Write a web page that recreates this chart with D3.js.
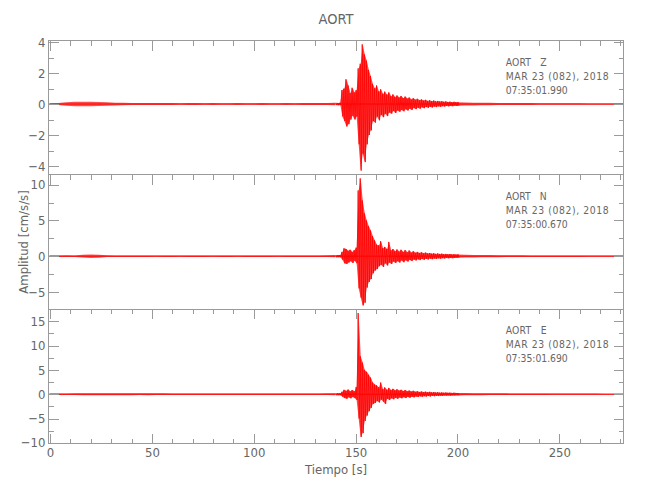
<!DOCTYPE html>
<html><head><meta charset="utf-8">
<script src="https://cdn.jsdelivr.net/npm/d3@7"></script>
<style>
body{margin:0;background:#fff}
svg{display:block}
text{font-family:"Liberation Sans Narrow","DejaVu Sans Condensed","Liberation Sans",sans-serif;}
</style></head><body>
<svg id="c" width="650" height="500"></svg>
<script>
// ---------------- DATA ----------------
const title = "AORT";
const station = "AORT";
const components = ["Z", "N", "E"];
const dateLabel = "MAR 23 (082), 2018";
const startTimes = ["07:35:01.990", "07:35:00.670", "07:35:01.690"];
const xLabel = "Tiempo [s]";
const yLabel = "Amplitud [cm/s/s]";

const xDomain = [-0.75, 281.5];
const xTicksMajor = [0, 50, 100, 150, 200, 250];
const xTicksMinor = [10,20,30,40,60,70,80,90,110,120,130,140,160,170,180,190,210,220,230,240,260,270,280];

const yDomains = [[-4.57, 4.1], [-7.42, 11.39], [-10.14, 17.49]];
const yTicksMajor = [[-4,-2,0,2,4], [-5,0,5,10], [-10,-5,0,5,10,15]];
const yTicksMinor = [[-3,-1,1,3], [-2.5,2.5,7.5], [-7.5,-2.5,2.5,7.5,12.5]];

// Active part: per-second bins from 140 s to 200 s (max / min of each bin)
const activeStart = 140, activeStep = 1;
const zHi = [0.08,0.07,0.08,0.9,1.0,1.6,1.2,0.7,1.05,0.75,0.9,2.3,2.6,3.85,3.2,2.8,2.2,1.8,1.3,1.0,1.2,0.8,0.95,0.65,0.8,0.6,0.75,0.5,0.62,0.45,0.55,0.42,0.52,0.38,0.48,0.35,0.42,0.3,0.38,0.28,0.34,0.25,0.3,0.22,0.27,0.2,0.24,0.18,0.22,0.17,0.2,0.16,0.18,0.14,0.17,0.13,0.15,0.12,0.14,0.12,0.12];
const zLo = [-0.07,-0.08,-0.07,-0.8,-1.1,-1.45,-1.3,-1.0,-0.75,-1.0,-0.8,-2.6,-4.3,-3.2,-3.75,-2.6,-2.0,-1.7,-1.1,-1.2,-0.8,-1.05,-0.7,-0.85,-0.62,-0.78,-0.55,-0.62,-0.45,-0.58,-0.42,-0.5,-0.38,-0.47,-0.34,-0.42,-0.3,-0.38,-0.26,-0.33,-0.24,-0.3,-0.21,-0.27,-0.19,-0.24,-0.18,-0.22,-0.16,-0.2,-0.15,-0.18,-0.14,-0.16,-0.13,-0.15,-0.12,-0.14,-0.11,-0.12,-0.11];
const nHi = [0.15,0.15,0.16,0.6,1.1,1.0,0.75,0.9,0.6,0.85,1.2,9.2,10.9,7.8,6.0,5.0,4.2,3.6,2.8,2.2,1.6,1.5,2.1,1.1,1.3,1.0,2.0,0.8,1.0,0.7,0.95,0.65,0.9,0.6,0.85,0.55,0.8,0.5,0.7,0.48,0.6,0.45,0.55,0.4,0.5,0.38,0.45,0.35,0.42,0.32,0.38,0.3,0.35,0.28,0.32,0.26,0.3,0.25,0.28,0.24,0.24];
const nLo = [-0.15,-0.14,-0.15,-0.5,-1.0,-1.1,-0.9,-0.7,-0.95,-0.65,-1.0,-4.5,-5.8,-6.9,-6.5,-4.4,-3.6,-3.2,-2.4,-2.0,-1.8,-1.4,-1.2,-1.5,-1.0,-1.3,-0.9,-1.1,-0.75,-0.95,-0.7,-0.9,-0.6,-0.85,-0.58,-0.75,-0.52,-0.68,-0.48,-0.6,-0.44,-0.55,-0.4,-0.5,-0.37,-0.45,-0.34,-0.42,-0.32,-0.38,-0.3,-0.35,-0.28,-0.32,-0.26,-0.3,-0.25,-0.28,-0.24,-0.23,-0.22];
const eHi = [0.2,0.2,0.22,0.5,0.9,0.7,0.95,0.6,0.85,0.6,1.5,16.7,7.8,6.5,5.0,4.6,4.0,3.4,2.4,2.0,1.8,1.4,2.4,1.0,1.4,0.9,1.3,0.85,1.1,0.8,1.0,0.75,0.9,0.65,0.85,0.6,0.75,0.55,0.7,0.5,0.62,0.46,0.56,0.43,0.52,0.4,0.48,0.37,0.44,0.34,0.4,0.32,0.37,0.3,0.34,0.28,0.32,0.27,0.3,0.26,0.25];
const eLo = [-0.2,-0.2,-0.2,-0.5,-0.8,-0.95,-0.65,-0.85,-0.6,-0.8,-1.2,-5.0,-8.8,-8.0,-5.5,-4.4,-3.5,-2.8,-2.0,-1.8,-1.4,-1.7,-1.1,-1.5,-2.0,-0.95,-1.2,-0.85,-1.05,-0.75,-0.95,-0.68,-0.85,-0.62,-0.8,-0.56,-0.72,-0.52,-0.65,-0.47,-0.58,-0.43,-0.53,-0.4,-0.49,-0.37,-0.45,-0.34,-0.41,-0.32,-0.38,-0.3,-0.35,-0.28,-0.32,-0.27,-0.3,-0.25,-0.28,-0.24,-0.23];

// Quiet parts: noise amplitude every 4 s, before (0-140 s) and after (200-284 s)
const quietStep = 4, preStart = 0, postStart = 200;
const zPre = [0.05,0.07,0.11,0.14,0.15,0.14,0.13,0.11,0.09,0.08,0.07,0.07,0.06,0.06,0.07,0.06,0.05,0.06,0.06,0.05,0.06,0.05,0.05,0.06,0.05,0.05,0.06,0.05,0.05,0.06,0.05,0.06,0.06,0.07,0.07,0.08];
const nPre = [0.1,0.11,0.12,0.1,0.2,0.24,0.21,0.13,0.11,0.1,0.1,0.11,0.1,0.09,0.1,0.1,0.09,0.1,0.11,0.1,0.09,0.1,0.1,0.09,0.1,0.1,0.11,0.1,0.09,0.1,0.1,0.11,0.1,0.11,0.12,0.15];
const ePre = [0.15,0.15,0.16,0.17,0.2,0.22,0.21,0.22,0.2,0.21,0.2,0.19,0.2,0.18,0.17,0.16,0.15,0.16,0.15,0.15,0.16,0.15,0.14,0.15,0.15,0.14,0.15,0.15,0.14,0.15,0.15,0.16,0.15,0.16,0.17,0.2];
const zPost = [0.11,0.1,0.09,0.08,0.08,0.07,0.07,0.06,0.06,0.06,0.05,0.05,0.05,0.05,0.05,0.05,0.04,0.04,0.04,0.04,0.04,0.04];
const nPost = [0.23,0.2,0.18,0.16,0.15,0.14,0.13,0.12,0.12,0.11,0.11,0.11,0.1,0.1,0.1,0.1,0.09,0.09,0.09,0.09,0.09,0.09];
const ePost = [0.25,0.23,0.21,0.2,0.19,0.18,0.17,0.16,0.15,0.15,0.14,0.14,0.13,0.13,0.13,0.12,0.12,0.12,0.11,0.11,0.11,0.11];

const traces = [
  {hi: zHi, lo: zLo, pre: zPre, post: zPost},
  {hi: nHi, lo: nLo, pre: nPre, post: nPost},
  {hi: eHi, lo: eLo, pre: ePre, post: ePost}
];

// ---------------- LAYOUT / STYLE ----------------
const AX = "#9a9a9a", TX = "#666", RED = "#ff0000";
const pL = 48.5, pR = 623.5, pT = 40.5, pB = 443.5;
const panelH = (pB - pT) / 3;

const svg = d3.select("#c");
const x = d3.scaleLinear().domain(xDomain).range([pL, pR]);

svg.append("text").attr("x", (pL + pR) / 2).attr("y", 24)
  .attr("text-anchor", "middle").attr("font-size", 14.5).attr("fill", TX).text(title);

function styleAxis(g, fs) {
  g.attr("font-family", null).attr("font-size", fs);
  g.select(".domain").remove();
  g.selectAll("line").attr("stroke", AX).attr("shape-rendering", "crispEdges");
  g.selectAll("text").attr("fill", TX);
}

traces.forEach((tr, i) => {
  const y0 = pT + i * panelH, y1 = pT + (i + 1) * panelH;
  const y = d3.scaleLinear().domain(yDomains[i]).range([y1, y0]);
  const g = svg.append("g");

  const clipId = "clip" + i;
  svg.append("clipPath").attr("id", clipId).append("rect")
    .attr("x", pL).attr("y", y0).attr("width", pR - pL).attr("height", y1 - y0);
  const tg = g.append("g").attr("clip-path", `url(#${clipId})`);
  const line = d3.line().x(d => x(d[0])).y(d => y(d[1]));

  // baseline of the trace
  tg.append("line").attr("x1", x(xDomain[0])).attr("x2", x(xDomain[1]))
    .attr("y1", y(0)).attr("y2", y(0)).attr("stroke", RED).attr("stroke-width", 1);

  // quiet parts: noise band
  const band = d3.area().x(d => x(d.t)).y0(d => y(-d.a)).y1(d => y(d.a));
  [[tr.pre, preStart], [tr.post, postStart]].forEach(([arr, start]) => {
    const q = arr.map((a, k) => ({t: start + k * quietStep, a}));
    tg.append("path").attr("d", band(q)).attr("fill", RED).attr("fill-opacity", 0.7);
  });

  // active part: envelope + zigzag through max/min of each bin
  const bins = tr.hi.map((h, k) => ({t: activeStart + k * activeStep, h, l: tr.lo[k]}));
  const env = d3.area().x(d => x(d.t + 0.5 * activeStep)).y0(d => y(d.l)).y1(d => y(d.h));
  tg.append("path").attr("d", env(bins)).attr("fill", RED).attr("fill-opacity", 0.72);
  const pts = [];
  bins.forEach(b => {
    pts.push([b.t + 0.25 * activeStep, b.h]);
    pts.push([b.t + 0.75 * activeStep, b.l]);
  });
  tg.append("path").attr("d", line(pts)).attr("fill", "none")
    .attr("stroke", RED).attr("stroke-width", 0.8);

  const la = g.append("g").attr("transform", `translate(${pL},0)`)
    .call(d3.axisLeft(y).tickValues(yTicksMajor[i]).tickSize(-10).tickPadding(3).tickSizeOuter(0));
  styleAxis(la, 13);
  const lm = g.append("g").attr("transform", `translate(${pL},0)`)
    .call(d3.axisLeft(y).tickValues(yTicksMinor[i]).tickSize(-5).tickFormat("").tickSizeOuter(0));
  styleAxis(lm, 13);
  const ra = g.append("g").attr("transform", `translate(${pR},0)`)
    .call(d3.axisRight(y).tickValues(yTicksMajor[i]).tickSize(-10).tickFormat("").tickSizeOuter(0));
  styleAxis(ra, 13);
  const rm = g.append("g").attr("transform", `translate(${pR},0)`)
    .call(d3.axisRight(y).tickValues(yTicksMinor[i]).tickSize(-5).tickFormat("").tickSizeOuter(0));
  styleAxis(rm, 13);
  const ta = g.append("g").attr("transform", `translate(0,${y0})`)
    .call(d3.axisTop(x).tickValues(xTicksMajor).tickSize(-10).tickFormat("").tickSizeOuter(0));
  styleAxis(ta, 13);
  const tm = g.append("g").attr("transform", `translate(0,${y0})`)
    .call(d3.axisTop(x).tickValues(xTicksMinor).tickSize(-5).tickFormat("").tickSizeOuter(0));
  styleAxis(tm, 13);
  if (i === traces.length - 1) {
    const ba = g.append("g").attr("transform", `translate(0,${y1})`)
      .call(d3.axisBottom(x).tickValues(xTicksMajor).tickSize(-10).tickPadding(4).tickSizeOuter(0));
    styleAxis(ba, 13);
    const bm = g.append("g").attr("transform", `translate(0,${y1})`)
      .call(d3.axisBottom(x).tickValues(xTicksMinor).tickSize(-5).tickFormat("").tickSizeOuter(0));
    styleAxis(bm, 13);
  }

  g.append("rect").attr("x", pL).attr("y", y0).attr("width", pR - pL).attr("height", y1 - y0)
    .attr("fill", "none").attr("stroke", AX).attr("shape-rendering", "crispEdges");

  const info = [
    {s: `${station}   ${components[i]}`, w: 41, dy: 25},
    {s: dateLabel, w: 103, dy: 39.3},
    {s: startTimes[i], w: 62, dy: 53.3}
  ];
  info.forEach(d => {
    g.append("text").attr("x", 505.7).attr("y", y0 + d.dy)
      .attr("font-size", 10.3).attr("fill", TX)
      .attr("textLength", d.w).attr("lengthAdjust", "spacing")
      .style("white-space", "pre").text(d.s);
  });
});

svg.append("text").attr("x", (pL + pR) / 2).attr("y", 474)
  .attr("text-anchor", "middle").attr("font-size", 13).attr("fill", TX).text(xLabel);
svg.append("text").attr("transform", `translate(28,${(pT + pB) / 2}) rotate(-90)`)
  .attr("text-anchor", "middle").attr("font-size", 13).attr("fill", TX).text(yLabel);
</script></body></html>
